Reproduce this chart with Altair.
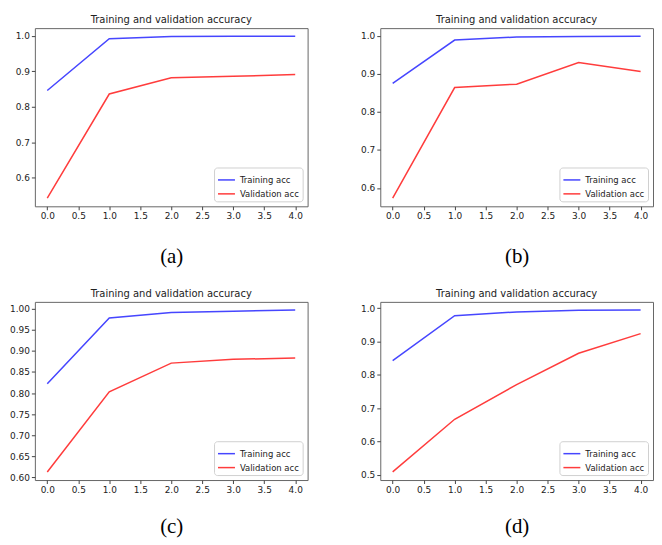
import altair as alt
import pandas as pd

epochs = [0, 1, 2, 3, 4]
train_a = [0.846, 0.992, 0.998, 0.999, 0.999]
val_a = [0.542, 0.836, 0.882, 0.886, 0.891]
train_b = [0.875, 0.989, 0.997, 0.998, 0.999]
val_b = [0.573, 0.864, 0.873, 0.930, 0.906]
train_c = [0.822, 0.978, 0.991, 0.994, 0.997]
val_c = [0.613, 0.803, 0.871, 0.880, 0.883]
train_d = [0.843, 0.978, 0.989, 0.994, 0.995]
val_d = [0.509, 0.667, 0.771, 0.865, 0.924]

series_names = ["Training acc", "Validation acc"]
series_colors = ["#4646ff", "#ff3c3c"]
panel_labels = ["(a)", "(b)", "(c)", "(d)"]
x_ticks = [0, 0.5, 1, 1.5, 2, 2.5, 3, 3.5, 4]
y_ticks_a = [0.6, 0.7, 0.8, 0.9, 1.0]
y_ticks_b = [0.6, 0.7, 0.8, 0.9, 1.0]
y_ticks_c = [0.60, 0.65, 0.70, 0.75, 0.80, 0.85, 0.90, 0.95, 1.00]
y_ticks_d = [0.5, 0.6, 0.7, 0.8, 0.9, 1.0]

W, H = 274, 179


def panel(train, val, label, yticks, yfmt, tpad):
    df = pd.DataFrame({
        "epoch": epochs * 2,
        "acc": train + val,
        "series": [series_names[0]] * len(epochs) + [series_names[1]] * len(epochs),
    })
    lo, hi = min(train + val), max(train + val)
    m = (hi - lo) * 0.05
    return alt.Chart(df).mark_line(strokeWidth=1.5).encode(
        x=alt.X("epoch:Q",
                scale=alt.Scale(domain=[-0.2, 4.2], nice=False, zero=False),
                axis=alt.Axis(values=x_ticks, format=".1f", title=label,
                              titleFont="Liberation Serif", titleFontSize=21,
                              titleFontWeight="normal", titleColor="black",
                              titlePadding=tpad)),
        y=alt.Y("acc:Q",
                scale=alt.Scale(domain=[lo - m, hi + m], nice=False, zero=False),
                axis=alt.Axis(values=yticks, format=yfmt, title=None)),
        color=alt.Color("series:N",
                        scale=alt.Scale(domain=series_names, range=series_colors),
                        legend=alt.Legend(title=None, orient="bottom-right", offset=5,
                                          fillColor="white", strokeColor="#d0d0d0",
                                          cornerRadius=3, padding=3,
                                          symbolType="stroke", symbolSize=290,
                                          symbolStrokeWidth=1.5,
                                          labelFontSize=8.5, labelFont="DejaVu Sans",
                                          labelColor="#222", rowPadding=0,
                                          labelOffset=4)),
    ).properties(width=W, height=H, title="Training and validation accuracy")


pa = panel(train_a, val_a, panel_labels[0], y_ticks_a, ".1f", 25)
pb = panel(train_b, val_b, panel_labels[1], y_ticks_b, ".1f", 25)
pc = panel(train_c, val_c, panel_labels[2], y_ticks_c, ".2f", 21)
pd_ = panel(train_d, val_d, panel_labels[3], y_ticks_d, ".1f", 21)

top = alt.hconcat(pa, pb, spacing=51).resolve_scale(color="independent")
bottom = alt.hconcat(pc, pd_, spacing=51).resolve_scale(color="independent")

chart = alt.vconcat(top, bottom, spacing=21).resolve_scale(
    color="independent"
).properties(
    padding={"left": 0, "top": 5, "right": 0, "bottom": 0}
).configure_view(
    stroke="#666", strokeWidth=1
).configure_axis(
    domain=False, grid=False, tickColor="#444", tickSize=3.5, labelPadding=2,
    labelFont="DejaVu Sans", labelFontSize=9, labelColor="#222"
).configure_title(
    font="DejaVu Sans", fontSize=10, fontWeight="normal", color="#222", offset=3
).configure_legend(
    labelLimit=0
)

chart.save("out.html", embed_options={"renderer": "svg", "actions": False})
